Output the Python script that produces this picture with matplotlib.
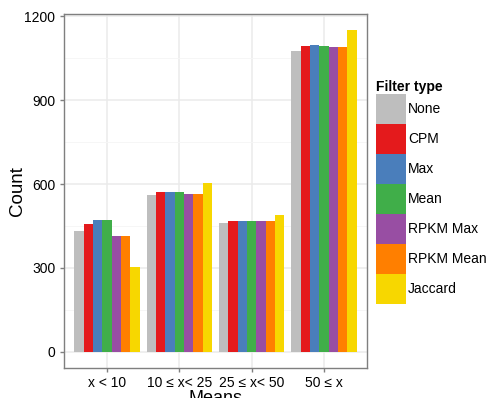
import matplotlib
matplotlib.use("Agg")
import numpy as np
from matplotlib import pyplot as plt
from matplotlib.patches import Patch

plt.rcParams['font.family'] = ['Liberation Sans', 'DejaVu Sans']

# data
groups = ['x < 10', '10 \u2264 x< 25', '25 \u2264 x< 50', '50 \u2264 x']
filters = ['None', 'CPM', 'Max', 'Mean', 'RPKM Max', 'RPKM Mean', 'Jaccard']
none_vals = [432, 561, 461, 1075]
cpm_vals = [458, 571, 468, 1093]
max_vals = [472, 571, 468, 1096]
mean_vals = [472, 571, 468, 1093]
rpkm_max_vals = [414, 564, 468, 1089]
rpkm_mean_vals = [414, 564, 468, 1089]
jaccard_vals = [303, 604, 489, 1150]
colors = ['#BEBEBE', '#E41A1C', '#4A7EBB', '#40AE49', '#984EA3', '#FF7F00', '#F7D700']

series = [none_vals, cpm_vals, max_vals, mean_vals, rpkm_max_vals, rpkm_mean_vals, jaccard_vals]

W, H = 487, 398
fig = plt.figure(figsize=(W / 100, H / 100), dpi=100)
ax = fig.add_axes([63.6 / W, (H - 368) / H, 303.8 / W, 354 / H])

x = np.arange(1, len(groups) + 1)
bw = 0.9 / len(filters)
for i, (vals, c) in enumerate(zip(series, colors)):
    ax.bar(x - 0.45 + bw * (i + 0.5), vals, width=bw, color=c, linewidth=0, zorder=3)

ymax = max(max(s) for s in series)
ax.set_ylim(-0.05 * ymax, ymax * 1.05)
ax.set_xlim(0.4, 4.6)
ax.set_yticks([0, 300, 600, 900, 1200])
ax.set_yticks([150, 450, 750, 1050], minor=True)
ax.set_xticks(x)
ax.set_xticklabels(groups)
ax.grid(which='major', color='#EBEBEB', linewidth=1.1, zorder=0)
ax.grid(which='minor', axis='y', color='#F5F5F5', linewidth=0.6, zorder=0)
ax.tick_params(which='major', length=3, color='#7F7F7F', width=1, labelsize=10, labelcolor='black', pad=3)
ax.tick_params(which='minor', length=0)
for sp in ax.spines.values():
    sp.set_color('#7F7F7F')
    sp.set_linewidth(1)
ax.set_ylabel('Count', fontsize=13.5)
ax.yaxis.set_label_coords(-0.124, 0.5)
ax.set_xlabel('Means', fontsize=13, labelpad=0)

handles = [Patch(facecolor=c, edgecolor='none') for c in colors]
leg = fig.legend(handles, filters, loc='upper left', bbox_to_anchor=(376 / W, 1 - 80 / H),
                 frameon=False, fontsize=10, title='Filter type',
                 title_fontproperties={'weight': 'bold', 'size': 10},
                 handlelength=2.15, handleheight=2.95, labelspacing=0,
                 handletextpad=0.15, borderpad=0, borderaxespad=0, alignment='left')

fig.savefig('out.png', dpi=100)
